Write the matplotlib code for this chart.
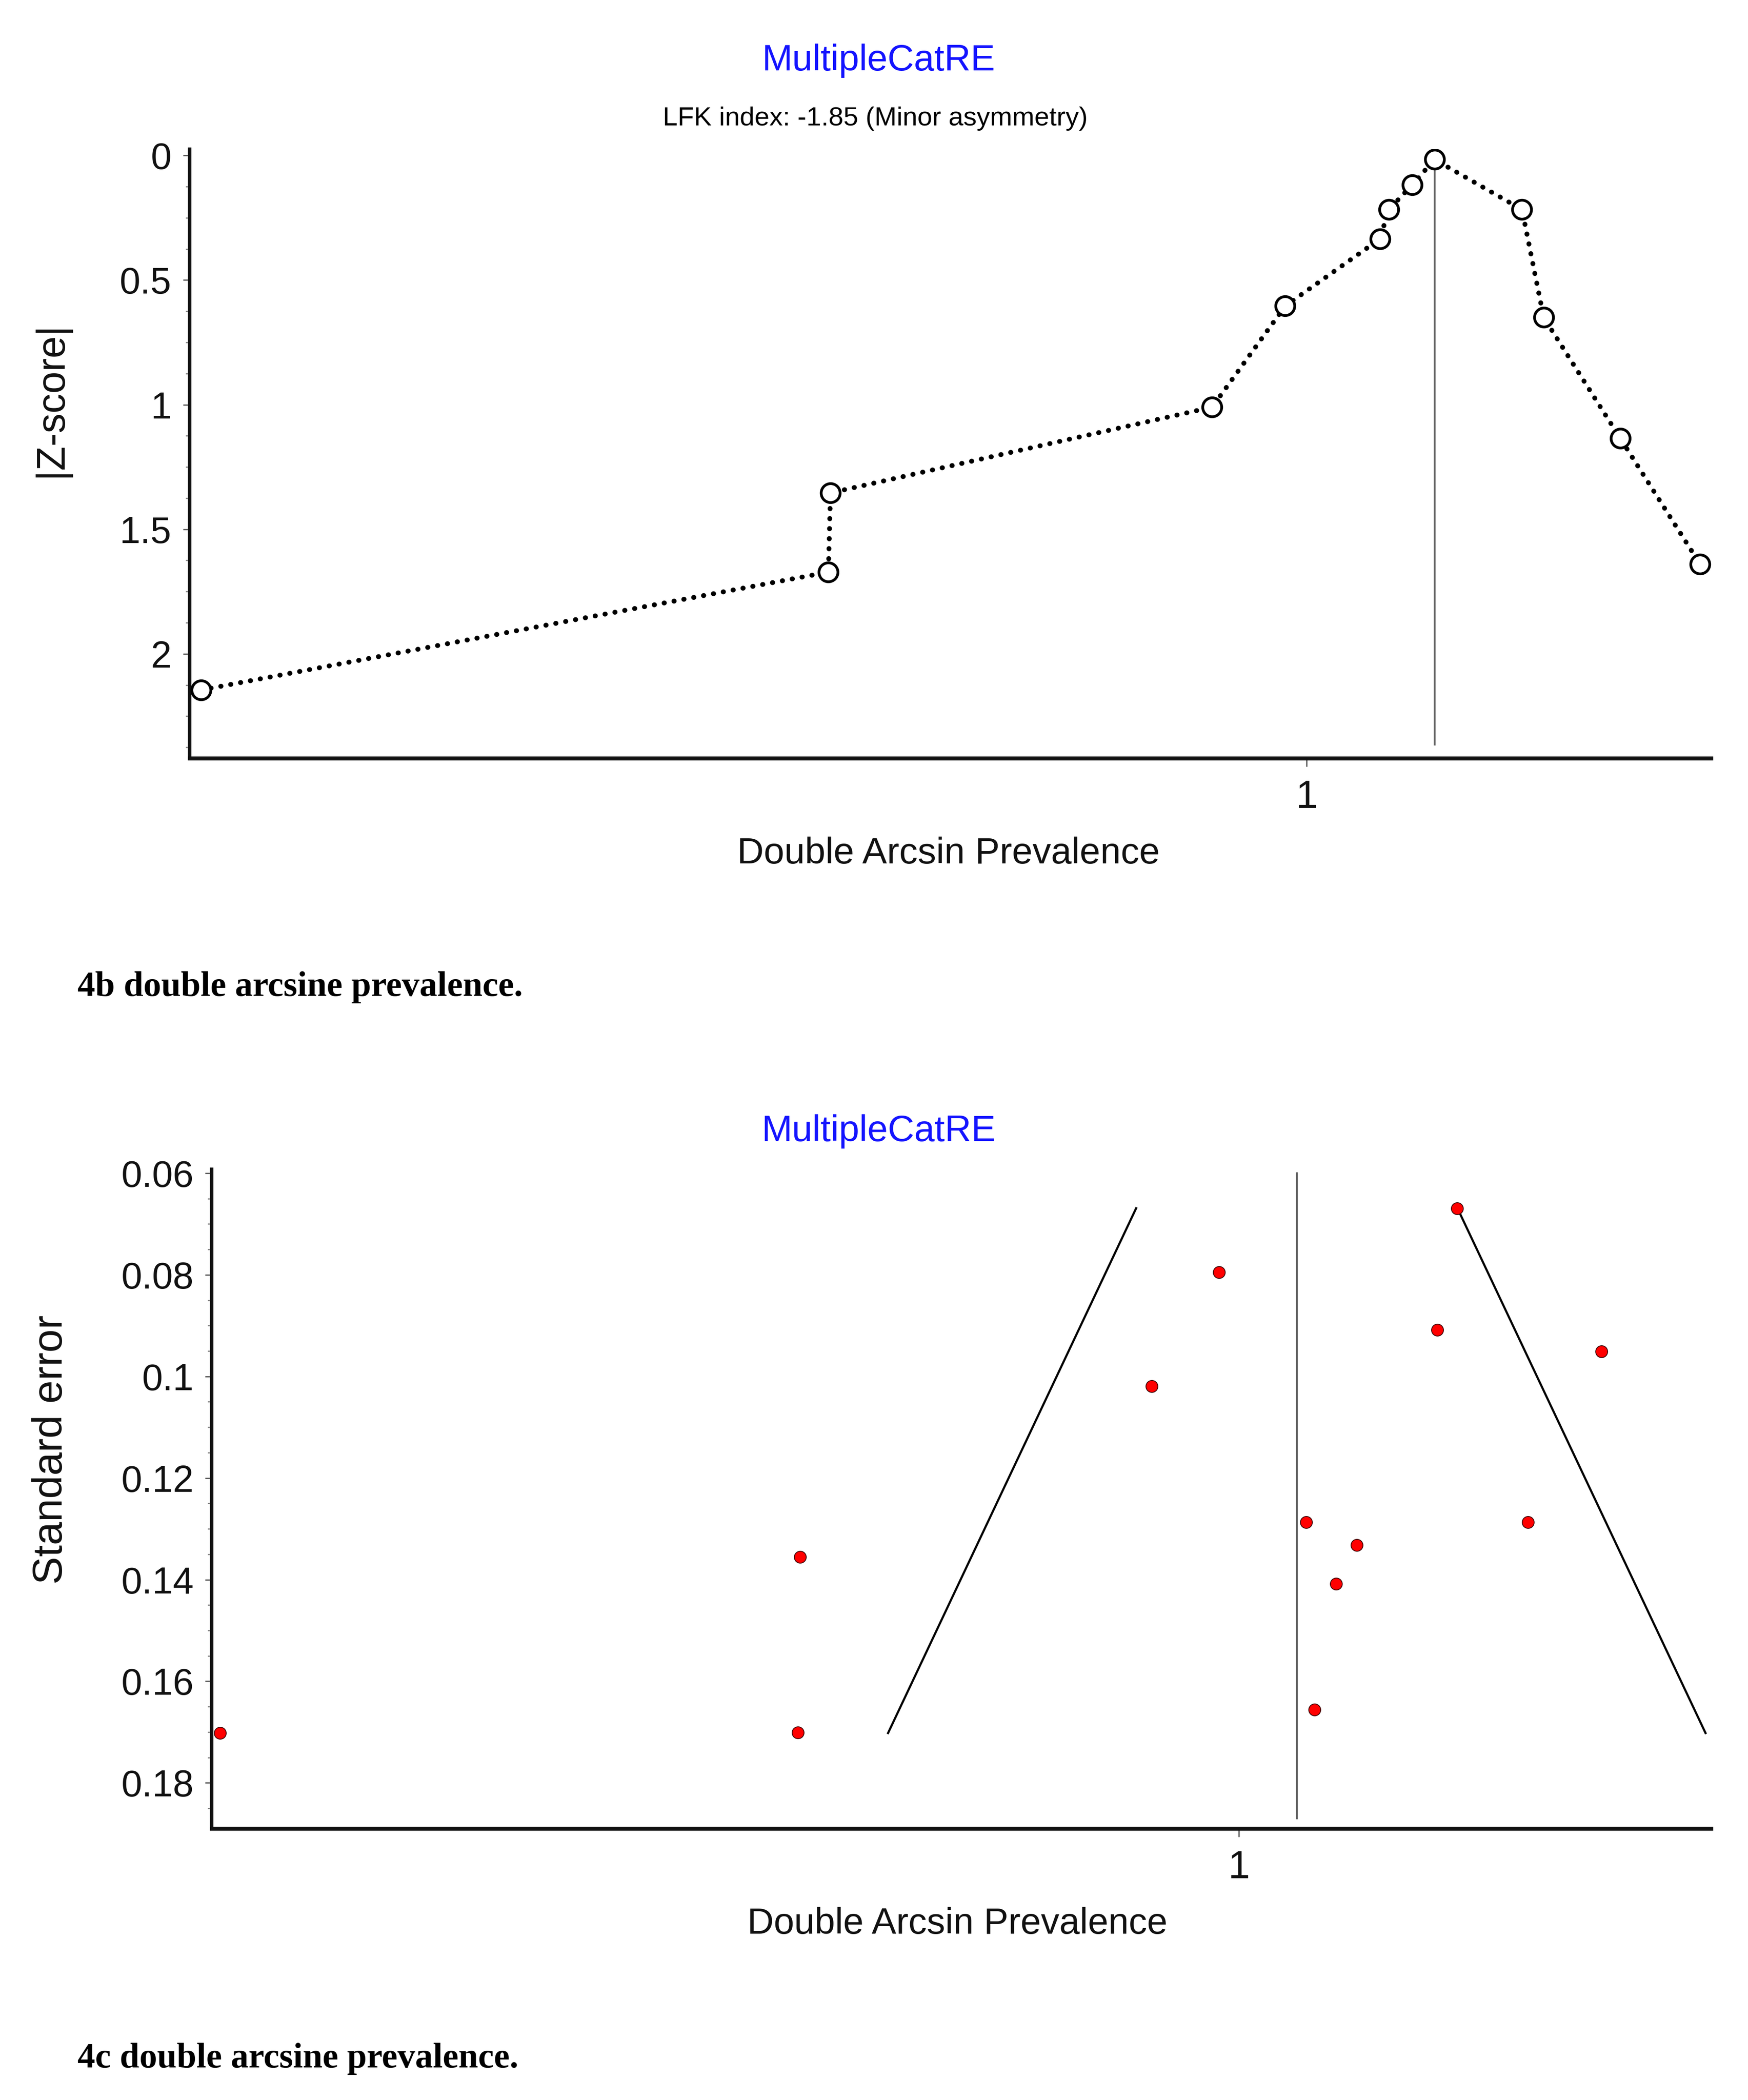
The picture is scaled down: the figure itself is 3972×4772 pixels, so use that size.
import numpy as np
import matplotlib
matplotlib.use("Agg")
import matplotlib.pyplot as plt
from matplotlib.ticker import MultipleLocator, FormatStrFormatter, NullLocator

# ---------------- data ----------------
effect = [0.1685, 0.6403, 0.6419, 0.9289, 0.9839, 1.0551, 1.0618,
          1.0794, 1.0962, 1.1620, 1.1783, 1.2359, 1.2959]
z_abs = [2.145, 1.672, 1.354, 1.010, 0.604, 0.335, 0.217,
         0.118, 0.016, 0.217, 0.650, 1.135, 1.640]
std_err = [0.1702, 0.1701, 0.1355, 0.1019, 0.0795, 0.1287, 0.1656,
           0.1408, 0.1332, 0.0908, 0.0669, 0.1287, 0.0951]
pooled_effect = 1.0474

title_text = "MultipleCatRE"
subtitle_text = "LFK index: -1.85 (Minor asymmetry)"
x_label = "Double Arcsin Prevalence"
y_label_top = "|Z-score|"
y_label_bottom = "Standard error"
caption_top = "4b double arcsine prevalence."
caption_bottom = "4c double arcsine prevalence."
x_tick_step = 1
y_tick_top = (0.5, 0.125)
y_tick_bottom = (0.02, 0.005)

# ---------------- figure ----------------
plt.rcParams["font.family"] = ["Liberation Sans", "DejaVu Sans"]
W, H = 3973, 4772
fig = plt.figure(figsize=(W / 100, H / 100), dpi=100)
fig.patch.set_facecolor("white")

ax1 = fig.add_axes([0.10838, 0.63904, 0.87010, 0.29000])
ax2 = fig.add_axes([0.12116, 0.12925, 0.85732, 0.31388])

# --- Doi plot ---
ax1.plot(effect, z_abs, color="black", lw=8.0, linestyle=(0, (0.05, 2.0)),
         dash_capstyle="round", zorder=2)
ax1.plot(effect, z_abs, linestyle="none", marker="o", ms=31, mfc="white",
         mec="black", mew=4.5, zorder=3)
i0 = int(np.argmin(z_abs))
ax1.plot([effect[i0], effect[i0]], [0.0, 2.365], color="#666666", lw=3, zorder=1)
ax1.set_xlim(0.1598, 1.304)
ax1.set_ylim(2.418, -0.026)
ax1.yaxis.set_major_locator(MultipleLocator(y_tick_top[0]))
ax1.yaxis.set_minor_locator(MultipleLocator(y_tick_top[1]))

# --- funnel plot ---
se_arr = np.array(std_err)
eff_arr = np.array(effect)
se_rng = np.array([se_arr.min(), se_arr.max()])
ax2.plot(pooled_effect - 1.96 * se_rng, se_rng, color="black", lw=3.5, zorder=2)
ax2.plot(pooled_effect + 1.96 * se_rng, se_rng, color="black", lw=3.5, zorder=2)
ax2.plot([pooled_effect, pooled_effect], [0.06, 0.187], color="#666666", lw=3, zorder=1)
ax2.plot(eff_arr, se_arr, linestyle="none", marker="o", ms=19.5, mfc="#ff0000",
         mec="#3a0000", mew=1.3, zorder=3)
ax2.set_xlim(0.1619, 1.3853)
ax2.set_ylim(0.1890, 0.05926)
ax2.yaxis.set_major_locator(MultipleLocator(y_tick_bottom[0]))
ax2.yaxis.set_minor_locator(MultipleLocator(y_tick_bottom[1]))

for ax in (ax1, ax2):
    ax.spines["top"].set_visible(False)
    ax.spines["right"].set_visible(False)
    ax.spines["left"].set_linewidth(5.5)
    ax.spines["bottom"].set_linewidth(6.5)
    ax.spines["left"].set_color("#111111")
    ax.spines["bottom"].set_color("#111111")
    ax.xaxis.set_major_locator(MultipleLocator(x_tick_step))
    ax.xaxis.set_minor_locator(NullLocator())
    ax.xaxis.set_major_formatter(FormatStrFormatter("%g"))
    ax.yaxis.set_major_formatter(FormatStrFormatter("%g"))
    ax.tick_params(axis="y", which="major", direction="out", length=10.5, width=2,
                   color="#555555", pad=19, labelsize=61, labelcolor="#111111")
    ax.tick_params(axis="y", which="minor", direction="out", length=6.3, width=1.8,
                   color="#777777")
    ax.tick_params(axis="x", which="major", direction="out", length=13.7, width=2,
                   color="#555555", pad=21, labelsize=64, labelcolor="#111111")
    ax.set_facecolor("white")

# ---------------- texts ----------------
def fy(py):
    return 1 - py / H

texts = []
def add(x, y, s, target, vertical=False, **kw):
    t = fig.text(x, y, s, **kw)
    texts.append((t, target, vertical))
    return t

blue = "#1414ff"
add(1996 / W, fy(160), title_text, 530, ha="center", va="baseline", color=blue, fontsize=60)
add(1989 / W, fy(285), subtitle_text, 964, ha="center", va="baseline", color="black", fontsize=44)
add(2155 / W, fy(1962), x_label, 960, ha="center", va="baseline", color="#111111", fontsize=60)
add(176 / W, fy(2263), caption_top, 1012, ha="left", va="baseline", color="black",
    fontsize=58, family=["Liberation Serif", "DejaVu Serif"], fontweight="bold")
add(1996 / W, fy(2593), title_text, 532, ha="center", va="baseline", color=blue, fontsize=60)
add(2175 / W, fy(4394), x_label, 955, ha="center", va="baseline", color="#111111", fontsize=60)
add(176 / W, fy(4698), caption_bottom, 1001, ha="left", va="baseline", color="black",
    fontsize=58, family=["Liberation Serif", "DejaVu Serif"], fontweight="bold")
add(117 / W, fy(908), y_label_top, 352, vertical=True, rotation=90, ha="center",
    va="center", color="#111111", fontsize=66)
add(117 / W, fy(3294), y_label_bottom, 612, vertical=True, rotation=90, ha="center",
    va="center", color="#111111", fontsize=66)

for _ in range(2):
    fig.canvas.draw()
    r = fig.canvas.get_renderer()
    for t, target, vertical in texts:
        bb = t.get_window_extent(r)
        size = bb.height if vertical else bb.width
        if size > 0:
            t.set_fontsize(t.get_fontsize() * target / size)

fig.savefig("out.png", dpi=100, facecolor="white")
